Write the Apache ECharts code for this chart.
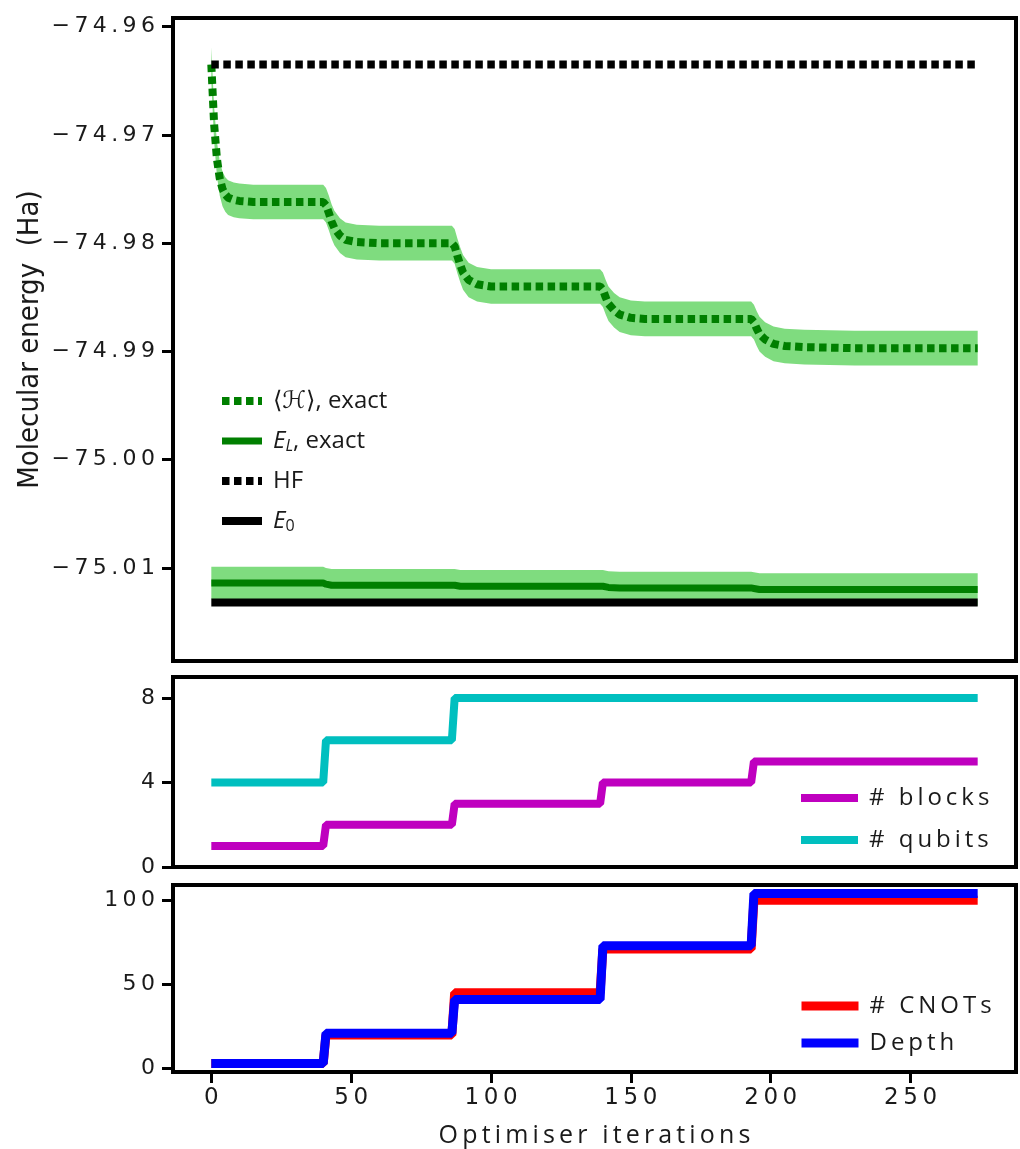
<!DOCTYPE html>
<html><head><meta charset="utf-8">
<script src="https://cdn.jsdelivr.net/npm/echarts@6/dist/echarts.min.js"></script>
<style>html,body{margin:0;padding:0;background:#fff}#c{width:1020px;height:1149px}</style>
</head><body><div id="c"></div>
<script>
// ---- tick labels ----
const iterTicks = [0, 50, 100, 150, 200, 250];
const energyTicks = [-75.01, -75.00, -74.99, -74.98, -74.97, -74.96];
const countTicks = [0, 4, 8];
const gateTicks = [0, 50, 100];

// ---- top panel: <H>, exact (mean) ----
const hX = [0,1,2,3,4,5,6,8,10,15,25,40,41,42,43,44,46,48,52,60,86,87,88,89,90,92,95,100,110,139,140,141,142,144,146,150,155,165,193,194,195,196,198,201,205,212,230,274];
const hY = [-74.9635,-74.9690,-74.9722,-74.9740,-74.9750,-74.9755,-74.9758,-74.9760,-74.9761,-74.9762,-74.9762,-74.9762,
  -74.9765,-74.9772,-74.9780,-74.9786,-74.9793,-74.9797,-74.9799,-74.9800,-74.9800,
  -74.9803,-74.9812,-74.9820,-74.9827,-74.9834,-74.9838,-74.9840,-74.9840,-74.9840,
  -74.9843,-74.9850,-74.9856,-74.9862,-74.9866,-74.9869,-74.9870,-74.9870,-74.9870,
  -74.9873,-74.9879,-74.9884,-74.9889,-74.9893,-74.9895,-74.9896,-74.9897,-74.9897];
const hSpread = 0.0016;

// ---- E_L, exact ----
const elX = [0,40,41,43,46,86,87,89,92,139,140,142,146,193,194,196,200,274];
const elY = [-75.0114,-75.0114,-75.0115,-75.0116,-75.0116,-75.0116,-75.0116,-75.0117,-75.0117,-75.0117,-75.0117,-75.0118,-75.01185,-75.01185,-75.0119,-75.0120,-75.0120,-75.0120];
const elSpread = 0.0015;

// ---- HF and E0 ----
const hfX = [0, 274];
const hfY = [-74.9635, -74.9635];
const e0X = [0, 274];
const e0Y = [-75.0132, -75.0132];

// ---- middle panel ----
const blockX = [0,40,41,86,87,139,140,193,194,274];
const blockY = [1,1,2,2,3,3,4,4,5,5];
const qubitX = [0,40,41,86,87,274];
const qubitY = [4,4,6,6,8,8];

// ---- bottom panel ----
const gateX = [0,40,41,86,87,139,140,193,194,274];
const cnotY = [3,3,20,20,45,45,71,71,100,100];
const depthY = [3,3,21,21,41,41,73,73,104,104];

const pairs = (xs, ys) => xs.map((x, i) => [x, ys[i]]);
const TS = '\u2009';
const spaced = s => Array.from(s).join(TS);
const TXT = '#1a1a1a';
const TICKFONT = "'DejaVu Sans', sans-serif";
const LEGFONT = "'Open Sans', 'DejaVu Sans', sans-serif";
const XMIN = -13.7, XMAX = 287.7;

const grids = [
  {left: 173, right: 4, top: 18, height: 643},
  {left: 173, right: 4, top: 677, height: 190},
  {left: 173, right: 4, top: 885, height: 187}
].map(g => Object.assign(g, {show: true, borderColor: '#000', borderWidth: 4, backgroundColor: 'transparent', z: 0}));

const TICK = {show: true, inside: false, length: 11, lineStyle: {color: '#000', width: 3}};

function xAxis(i, show) {
  return {
    type: 'value', gridIndex: i, min: XMIN, max: XMAX, position: 'bottom', z: 5,
    axisLine: {show: show, onZero: false, lineStyle: {color: '#000', width: 4}}, splitLine: {show: false},
    axisTick: Object.assign({}, TICK, {show: show, customValues: iterTicks}),
    axisLabel: {show: show, customValues: iterTicks, margin: 15, color: TXT, fontSize: 23, fontFamily: TICKFONT,
      formatter: v => spaced(String(v))},
    name: show ? spaced('Optimiser iterations') : '', nameLocation: 'middle', nameGap: 51, nameMoveOverlap: false,
    nameTextStyle: {color: TXT, fontSize: 25, fontFamily: LEGFONT}
  };
}
function yAxis(i, min, max, ticks, fmt) {
  return {
    type: 'value', gridIndex: i, min: min, max: max, position: 'left', z: 5,
    axisLine: {show: true, onZero: false, lineStyle: {color: '#000', width: 4}}, splitLine: {show: false},
    axisTick: Object.assign({}, TICK, {customValues: ticks}),
    axisLabel: {customValues: ticks, margin: 18, color: TXT, fontSize: 22, fontFamily: TICKFONT,
      formatter: v => spaced(fmt(v))}
  };
}
const energyFmt = v => (v < 0 ? '\u2212' : '') + Math.abs(v).toFixed(2);

const yAxes = [
  Object.assign(yAxis(0, -75.0186, -74.9592, energyTicks, energyFmt), {
    name: 'Molecular energy  (Ha)', nameLocation: 'middle', nameGap: 128, nameRotate: 90, nameMoveOverlap: false,
    nameTextStyle: {color: TXT, fontSize: 29, fontFamily: "'Liberation Sans Narrow', 'DejaVu Sans Condensed', sans-serif"}
  }),
  yAxis(1, 0, 9, countTicks, v => String(v)),
  yAxis(2, -2.05, 109.05, gateTicks, v => String(v))
];

const DARKG = '#007f00', LIGHTG = '#7fdc7f';
// shaded spread band drawn as a polygon through the axis scales
function band(xs, ys, spread) {
  const upper = xs.map((x, i) => [x, ys[i] + spread]);
  const lower = xs.map((x, i) => [x, ys[i] - spread]).reverse();
  return {
    type: 'custom', xAxisIndex: 0, yAxisIndex: 0, silent: true, z: 1, clip: true,
    data: [[xs[0], ys[0]]],
    renderItem: (params, api) => ({
      type: 'polygon',
      shape: {points: upper.concat(lower).map(p => api.coord(p))},
      style: {fill: LIGHTG, stroke: null}
    })
  };
}

const N_H = '⟨ℋ⟩, exact', N_EL = 'E_L, exact', N_HF = 'HF', N_E0 = 'E_0';
const richNames = {};
richNames[N_H] = '{r|⟨}{i|ℋ}{r|⟩, exact}';
richNames[N_EL] = '{i|E}{sub|L}{r|, exact}';
richNames[N_HF] = '{r|HF}';
richNames[N_E0] = '{i|E}{sub0|0}';

const LFS = 24;
const TFS = 24;
const rich = {
  r: {fontSize: TFS, fontFamily: LEGFONT, color: TXT, lineHeight: 28},
  i: {fontSize: TFS, fontFamily: LEGFONT, fontStyle: 'italic', color: TXT, lineHeight: 28},
  sub: {fontSize: 16, fontFamily: LEGFONT, fontStyle: 'italic', color: TXT, lineHeight: 28, padding: [10, 0, 0, 0]},
  sub0: {fontSize: 16, fontFamily: LEGFONT, color: TXT, lineHeight: 28, padding: [10, 0, 0, 0]}
};

const series = [
  band(hX, hY, hSpread),
  band(elX, elY, elSpread),
  {type: 'line', name: N_H, xAxisIndex: 0, yAxisIndex: 0, symbol: 'none', data: pairs(hX, hY),
   lineStyle: {color: DARKG, width: 8, type: [7.5, 4.5], cap: 'butt'}, itemStyle: {color: DARKG}, z: 3},
  {type: 'line', name: N_EL, xAxisIndex: 0, yAxisIndex: 0, symbol: 'none', data: pairs(elX, elY),
   lineStyle: {color: DARKG, width: 7}, itemStyle: {color: DARKG}, z: 3},
  {type: 'line', name: N_HF, xAxisIndex: 0, yAxisIndex: 0, symbol: 'none', data: pairs(hfX, hfY),
   lineStyle: {color: '#000', width: 8, type: [7.5, 4.5], cap: 'butt'}, itemStyle: {color: '#000'}, z: 4},
  {type: 'line', name: N_E0, xAxisIndex: 0, yAxisIndex: 0, symbol: 'none', data: pairs(e0X, e0Y),
   lineStyle: {color: '#000', width: 8}, itemStyle: {color: '#000'}, z: 4},
  {type: 'line', name: '# blocks', xAxisIndex: 1, yAxisIndex: 1, symbol: 'none', data: pairs(blockX, blockY),
   lineStyle: {color: '#bf00bf', width: 8}, itemStyle: {color: '#bf00bf'}},
  {type: 'line', name: '# qubits', xAxisIndex: 1, yAxisIndex: 1, symbol: 'none', data: pairs(qubitX, qubitY),
   lineStyle: {color: '#00bfbf', width: 8}, itemStyle: {color: '#00bfbf'}},
  {type: 'line', name: '# CNOTs', xAxisIndex: 2, yAxisIndex: 2, symbol: 'none', data: pairs(gateX, cnotY),
   lineStyle: {color: '#ff0000', width: 9}, itemStyle: {color: '#ff0000'}, z: 2},
  {type: 'line', name: 'Depth', xAxisIndex: 2, yAxisIndex: 2, symbol: 'none', data: pairs(gateX, depthY),
   lineStyle: {color: '#0000ff', width: 9}, itemStyle: {color: '#0000ff'}, z: 3}
];

const legendBase = {
  orient: 'vertical', padding: 0, itemHeight: 28, selectedMode: false,
  lineStyle: {width: 'inherit'},
  itemStyle: {color: 'rgba(0,0,0,0)', opacity: 0, borderWidth: 0},
  formatter: n => spaced(n),
  textStyle: {color: TXT, fontSize: LFS, fontFamily: LEGFONT, padding: [0, 0, 0, 6]}
};

const option = {
  animation: false,
  backgroundColor: '#fff',
  grid: grids,
  xAxis: [xAxis(0, false), xAxis(1, false), xAxis(2, true)],
  yAxis: yAxes,
  legend: [
    Object.assign({}, legendBase, {
      data: [N_H, N_EL, N_HF, N_E0], left: 218, top: 389, itemWidth: 40, itemGap: 15,
      formatter: n => richNames[n],
      textStyle: Object.assign({}, legendBase.textStyle, {rich: rich})
    }),
    Object.assign({}, legendBase, {data: ['# blocks', '# qubits'], left: 797, top: 786, itemWidth: 57, itemGap: 18}),
    Object.assign({}, legendBase, {data: ['# CNOTs', 'Depth'], left: 797, top: 994, itemWidth: 57, itemGap: 13})
  ],
  series: series
};

const chart = echarts.init(document.getElementById('c'), null, {renderer: 'canvas'});
chart.setOption(option);
</script>
</body></html>
